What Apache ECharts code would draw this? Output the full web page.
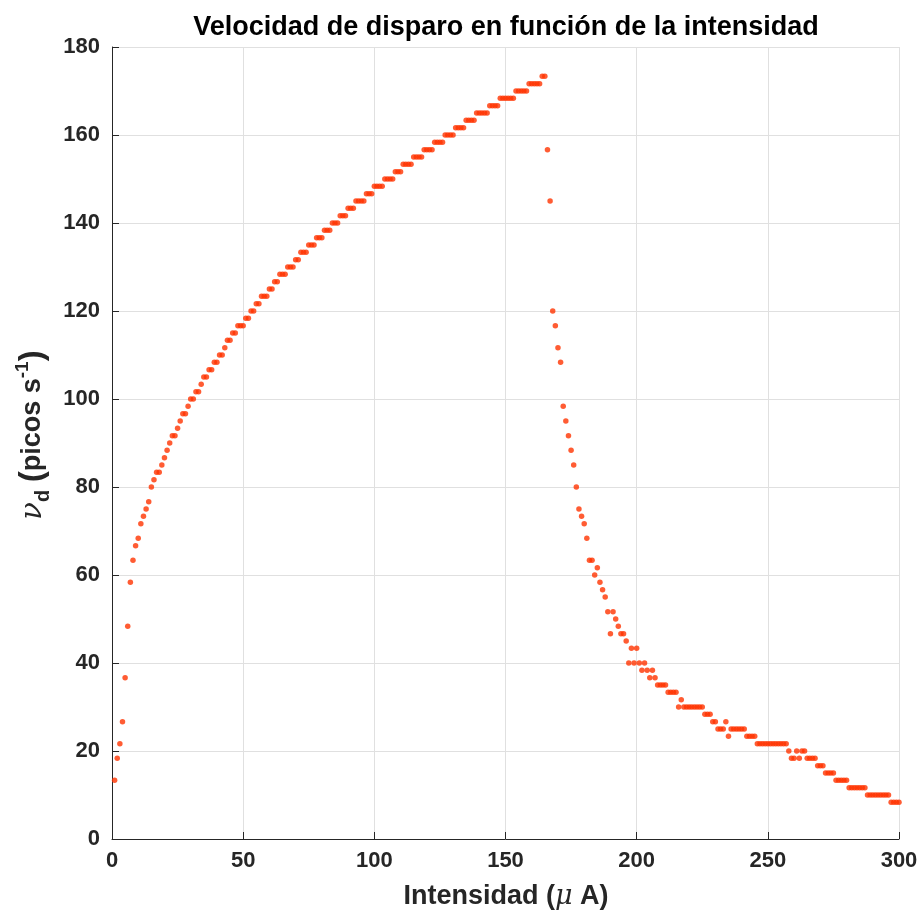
<!DOCTYPE html>
<html>
<head>
<meta charset="utf-8">
<script src="https://cdn.jsdelivr.net/npm/echarts@6/dist/echarts.min.js"></script>
<style>html,body{margin:0;padding:0;background:#fff}#c{width:921px;height:914px}</style>
</head>
<body>
<div id="c"></div>
<script>
// Intensity (µA) for each sample
const intensity = [
  1,2,3,4,5,6,7,8,9,10,11,12,13,14,15,16,17,18,19,20,
  21,22,23,24,25,26,27,28,29,30,31,32,33,34,35,36,37,38,39,40,
  41,42,43,44,45,46,47,48,49,50,51,52,53,54,55,56,57,58,59,60,
  61,62,63,64,65,66,67,68,69,70,71,72,73,74,75,76,77,78,79,80,
  81,82,83,84,85,86,87,88,89,90,91,92,93,94,95,96,97,98,99,100,
  101,102,103,104,105,106,107,108,109,110,111,112,113,114,115,116,117,118,119,120,
  121,122,123,124,125,126,127,128,129,130,131,132,133,134,135,136,137,138,139,140,
  141,142,143,144,145,146,147,148,149,150,151,152,153,154,155,156,157,158,159,160,
  161,162,163,164,165,166,167,168,169,170,171,172,173,174,175,176,177,178,179,180,
  181,182,183,184,185,186,187,188,189,190,191,192,193,194,195,196,197,198,199,200,
  201,202,203,204,205,206,207,208,209,210,211,212,213,214,215,216,217,218,219,220,
  221,222,223,224,225,226,227,228,229,230,231,232,233,234,235,236,237,238,239,240,
  241,242,243,244,245,246,247,248,249,250,251,252,253,254,255,256,257,258,259,260,
  261,262,263,264,265,266,267,268,269,270,271,272,273,274,275,276,277,278,279,280,
  281,282,283,284,285,286,287,288,289,290,291,292,293,294,295,296,297,298,299,300
];
// Firing rate (spikes / s)
const rate = [
  13.33,18.33,21.67,26.67,36.67,48.33,58.33,63.33,66.67,68.33,
  71.67,73.33,75,76.67,80,81.67,83.33,83.33,85,86.67,
  88.33,90,91.67,91.67,93.33,95,96.67,96.67,98.33,100,
  100,101.67,101.67,103.33,105,105,106.67,106.67,108.33,108.33,
  110,110,111.67,113.33,113.33,115,115,116.67,116.67,116.67,
  118.33,118.33,120,120,121.67,121.67,123.33,123.33,123.33,125,
  125,126.67,126.67,128.33,128.33,128.33,130,130,130,131.67,
  131.67,133.33,133.33,133.33,135,135,135,136.67,136.67,136.67,
  138.33,138.33,138.33,140,140,140,141.67,141.67,141.67,143.33,
  143.33,143.33,145,145,145,145,146.67,146.67,146.67,148.33,
  148.33,148.33,148.33,150,150,150,150,151.67,151.67,151.67,
  153.33,153.33,153.33,153.33,155,155,155,155,156.67,156.67,
  156.67,156.67,158.33,158.33,158.33,158.33,160,160,160,160,
  161.67,161.67,161.67,161.67,163.33,163.33,163.33,163.33,165,165,
  165,165,165,166.67,166.67,166.67,166.67,168.33,168.33,168.33,
  168.33,168.33,168.33,170,170,170,170,170,171.67,171.67,
  171.67,171.67,171.67,173.33,173.33,156.67,145,120,116.67,111.67,
  108.33,98.33,95,91.67,88.33,85,80,75,73.33,71.67,
  68.33,63.33,63.33,60,61.67,58.33,56.67,55,51.67,46.67,
  51.67,50,48.33,46.67,46.67,45,40,43.33,40,43.33,
  40,38.33,40,38.33,36.67,38.33,36.67,35,35,35,
  35,33.33,33.33,33.33,33.33,30,31.67,30,30,30,
  30,30,30,30,30,28.33,28.33,28.33,26.67,26.67,
  25,25,25,26.67,23.33,25,25,25,25,25,
  25,23.33,23.33,23.33,23.33,21.67,21.67,21.67,21.67,21.67,
  21.67,21.67,21.67,21.67,21.67,21.67,21.67,20,18.33,18.33,
  20,18.33,20,20,18.33,18.33,18.33,18.33,16.67,16.67,
  16.67,15,15,15,15,13.33,13.33,13.33,13.33,13.33,
  11.67,11.67,11.67,11.67,11.67,11.67,11.67,10,10,10,
  10,10,10,10,10,10,8.33,8.33,8.33,8.33
];
const xTicks = [0, 50, 100, 150, 200, 250, 300];
const yTicks = [0, 20, 40, 60, 80, 100, 120, 140, 160, 180];
const titleText = 'Velocidad de disparo en función de la intensidad';

const SANS = '"Liberation Sans", Arial, Helvetica, sans-serif';
const SERIF = '"DejaVu Serif", "Liberation Serif", serif';
const DARK = '#262626';

const points = intensity.map((x, i) => [x, rate[i]]);

const axisCommon = {
  type: 'value',
  axisLine: { show: true, onZero: false, lineStyle: { color: DARK, width: 1 } },
  axisTick: { show: true, inside: true, length: 7, lineStyle: { color: DARK } },
  splitLine: { show: true, lineStyle: { color: '#e0e0e0', width: 1 } },
  axisLabel: { fontFamily: SANS, fontWeight: 'bold', fontSize: 22, color: DARK }
};

const chart = echarts.init(document.getElementById('c'), null, { renderer: 'canvas' });
chart.setOption({
  animation: false,
  backgroundColor: '#ffffff',
  grid: { left: 112, right: 22, top: 47, bottom: 75, containLabel: false },
  xAxis: Object.assign({}, axisCommon, {
    min: xTicks[0], max: xTicks[xTicks.length - 1], interval: xTicks[1] - xTicks[0],
    axisLabel: Object.assign({}, axisCommon.axisLabel, { margin: 11 })
  }),
  yAxis: Object.assign({}, axisCommon, {
    min: yTicks[0], max: yTicks[yTicks.length - 1], interval: yTicks[1] - yTicks[0],
    axisLabel: Object.assign({}, axisCommon.axisLabel, { margin: 12 })
  }),
  series: [{
    type: 'scatter',
    data: points,
    symbol: 'circle',
    symbolSize: 5.5,
    itemStyle: { color: '#ff3300' },
    silent: true
  }],
  graphic: [
    {
      type: 'text', x: 506, y: 28, silent: true,
      style: {
        text: titleText, font: 'bold 27px ' + SANS, fill: '#000000',
        align: 'center', verticalAlign: 'middle', textAlign: 'center', textVerticalAlign: 'middle'
      }
    },
    {
      type: 'text', x: 506, y: 897, silent: true,
      style: {
        text: '{t|Intensidad (}{mu|μ}{t| A)}',
        align: 'center', verticalAlign: 'middle', textAlign: 'center', textVerticalAlign: 'middle',
        rich: {
          t: { font: 'bold 27px ' + SANS, fill: DARK },
          mu: { font: 'italic 27px ' + SERIF, fill: DARK }
        }
      }
    },
    {
      type: 'text', x: 33, y: 435, rotation: Math.PI / 2, silent: true,
      style: {
        text: '{nu|ν}{sub|d}{t| }{p|(}{t|picos s}{sup|-1}{p|)}',
        align: 'center', verticalAlign: 'middle', textAlign: 'center', textVerticalAlign: 'middle',
        rich: {
          nu: { font: 'italic 29px ' + SERIF, fill: DARK, lineHeight: 40 },
          t: { font: 'bold 27px ' + SANS, fill: DARK, lineHeight: 40 },
          p: { font: 'bold 33px ' + SANS, fill: DARK, lineHeight: 40 },
          sub: { font: 'bold 20px ' + SANS, fill: DARK, lineHeight: 19, verticalAlign: 'bottom' },
          sup: { font: 'bold 19px ' + SANS, fill: DARK, lineHeight: 16, verticalAlign: 'top' }
        }
      }
    }
  ]
});
</script>
</body>
</html>
